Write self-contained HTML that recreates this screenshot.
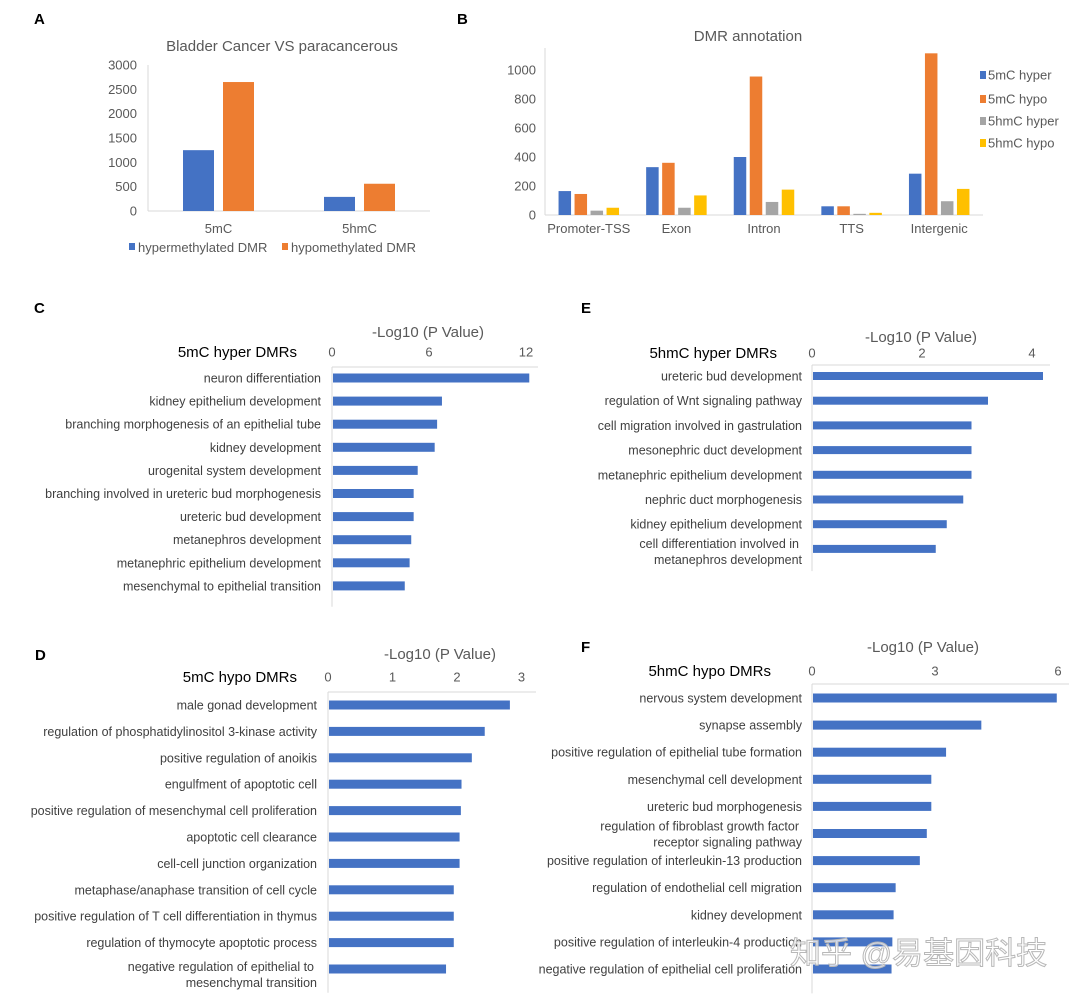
<!DOCTYPE html>
<html><head><meta charset="utf-8"><style>
html,body{margin:0;padding:0;background:#fff;}
svg{display:block;font-family:"Liberation Sans","Noto Sans CJK SC",sans-serif;}
</style></head><body>
<svg id="fig" width="1080" height="997" viewBox="0 0 1080 997" xmlns="http://www.w3.org/2000/svg"></svg>
<script>
// ---- Panel A data ----
const aCats = ['5mC','5hmC'];
const aHyper = [1250, 290];
const aHypo = [2650, 560];
const aTicks = [0,500,1000,1500,2000,2500,3000];
// ---- Panel B data ----
const bCats = ['Promoter-TSS','Exon','Intron','TTS','Intergenic'];
const bSeriesNames = ['5mC hyper','5mC hypo','5hmC hyper','5hmC hypo'];
const b5mcHyper = [165, 330, 400, 60, 285];
const b5mcHypo = [145, 360, 955, 60, 1115];
const b5hmcHyper = [30, 50, 90, 8, 95];
const b5hmcHypo = [50, 135, 175, 15, 180];
const bTicks = [0,200,400,600,800,1000];
// ---- Panel C data ----
const cLabels = ['neuron differentiation','kidney epithelium development','branching morphogenesis of an epithelial tube','kidney development','urogenital system development','branching involved in ureteric bud morphogenesis','ureteric bud development','metanephros development','metanephric epithelium development','mesenchymal to epithelial transition'];
const cValues = [12.2, 6.8, 6.5, 6.35, 5.3, 5.05, 5.05, 4.9, 4.8, 4.5];
const cTicks = [0, 6, 12];
// ---- Panel E data ----
const eLabels = ['ureteric bud development','regulation of Wnt signaling pathway','cell migration involved in gastrulation','mesonephric duct development','metanephric epithelium development','nephric duct morphogenesis','kidney epithelium development','cell differentiation involved in\nmetanephros development'];
const eValues = [4.2, 3.2, 2.9, 2.9, 2.9, 2.75, 2.45, 2.25];
const eTicks = [0, 2, 4];
// ---- Panel D data ----
const dLabels = ['male gonad development','regulation of phosphatidylinositol 3-kinase activity','positive regulation of anoikis','engulfment of apoptotic cell','positive regulation of mesenchymal cell proliferation','apoptotic cell clearance','cell-cell junction organization','metaphase/anaphase transition of cell cycle','positive regulation of T cell differentiation in thymus','regulation of thymocyte apoptotic process','negative regulation of epithelial to\nmesenchymal transition'];
const dValues = [2.82, 2.43, 2.23, 2.07, 2.06, 2.04, 2.04, 1.95, 1.95, 1.95, 1.83];
const dTicks = [0, 1, 2, 3];
// ---- Panel F data ----
const fLabels = ['nervous system development','synapse assembly','positive regulation of epithelial tube formation','mesenchymal cell development','ureteric bud morphogenesis','regulation of fibroblast growth factor\nreceptor signaling pathway','positive regulation of interleukin-13 production','regulation of endothelial cell migration','kidney development','positive regulation of interleukin-4 production','negative regulation of epithelial cell proliferation'];
const fValues = [5.97, 4.13, 3.27, 2.91, 2.91, 2.8, 2.63, 2.04, 1.99, 1.96, 1.94];
const fTicks = [0, 3, 6];

const NS = 'http://www.w3.org/2000/svg';
const svg = document.getElementById('fig');
function mk(tag, attrs, parent){
  const el = document.createElementNS(NS, tag);
  for (const k in attrs) el.setAttribute(k, attrs[k]);
  (parent || svg).appendChild(el);
  return el;
}
function txt(s, attrs, parent){ const t = mk('text', attrs, parent); t.textContent = s; return t; }
const BLUE='#4472C4', ORANGE='#ED7D31', GRAY='#A5A5A5', YELLOW='#FFC000';
const TICKC='#595959', LABC='#404040', AXC='#d9d9d9';

// ================= Panel A =================
(function(){
  const g = mk('g', {});
  
  
  let t = txt('A', {x:34, y:24, 'font-size':15, 'font-weight':'bold', fill:'#000'}, g);
  
  
  t = txt('Bladder Cancer VS paracancerous', {x:282, y:51, 'font-size':15, fill:TICKC, 'text-anchor':'middle'}, g);
  
  
  const x0=148, x1=430, yZero=211, yTop=65, vmax=3000;
  const y = v => yZero - v*(yZero-yTop)/vmax;
  const band = (x1-x0)/aCats.length;
  const cx = i => x0 + band*(i+0.5);
  let l = mk('line', {x1:x0, y1:65, x2:x0, y2:yZero, stroke:AXC}, g);
  
  
  l = mk('line', {x1:x0, y1:yZero, x2:x1, y2:yZero, stroke:AXC}, g);
  
  
  aTicks.forEach(v=>{
    const tt = txt(String(v), {x:137, y:y(v)+4.5, 'font-size':13, fill:TICKC, 'text-anchor':'end'}, g);
    
    
  });
  aCats.forEach((c,i)=>{
    const w=31;
    let r = mk('rect', {x:cx(i)-20-w/2, y:y(aHyper[i]), width:w, height:yZero-y(aHyper[i]), fill:BLUE}, g);
    
    
    r = mk('rect', {x:cx(i)+20-w/2, y:y(aHypo[i]), width:w, height:yZero-y(aHypo[i]), fill:ORANGE}, g);
    
    
    const tt = txt(c, {x:cx(i), y:233, 'font-size':13, fill:TICKC, 'text-anchor':'middle'}, g);
    
    
  });
  let r = mk('rect', {x:129, y:243, width:6, height:7, fill:BLUE}, g);
  
  
  t = txt('hypermethylated DMR', {x:138, y:252, 'font-size':13, fill:TICKC}, g);
  
  
  r = mk('rect', {x:282, y:243, width:6, height:7, fill:ORANGE}, g);
  
  
  t = txt('hypomethylated DMR', {x:291, y:252, 'font-size':13, fill:TICKC}, g);
  
  
})();

// ================= Panel B =================
(function(){
  const g = mk('g', {});
  
  
  let t = txt('B', {x:457, y:24, 'font-size':15, 'font-weight':'bold', fill:'#000'}, g);
  
  
  t = txt('DMR annotation', {x:748, y:41, 'font-size':15, fill:TICKC, 'text-anchor':'middle'}, g);
  
  
  const x0=545, x1=983, yZero=215, vPerPx=0.145;
  const y = v => yZero - v*vPerPx;
  const band = (x1-x0)/bCats.length;
  const cx = i => x0 + band*(i+0.5);
  let l = mk('line', {x1:x0, y1:48, x2:x0, y2:yZero, stroke:AXC}, g);
  
  
  l = mk('line', {x1:x0, y1:yZero, x2:x1, y2:yZero, stroke:AXC}, g);
  
  
  bTicks.forEach(v=>{
    const tt = txt(String(v), {x:536, y:y(v)+4.5, 'font-size':13, fill:TICKC, 'text-anchor':'end'}, g);
    
    
  });
  const series = [b5mcHyper, b5mcHypo, b5hmcHyper, b5hmcHypo];
  const cols = [BLUE, ORANGE, GRAY, YELLOW];
  bCats.forEach((c,i)=>{
    series.forEach((s,k)=>{
      const w=12.5, xc = cx(i) + (k-1.5)*16;
      const r = mk('rect', {x:xc-w/2, y:y(s[i]), width:w, height:yZero-y(s[i]), fill:cols[k]}, g);
      
      
    });
    const tt = txt(c, {x:cx(i), y:233, 'font-size':13, fill:TICKC, 'text-anchor':'middle'}, g);
    
    
  });
  const ly = [75, 99, 121, 143];
  bSeriesNames.forEach((n,k)=>{
    const r = mk('rect', {x:980, y:ly[k]-4, width:6, height:8, fill:cols[k]}, g);
    
    
    const tt = txt(n, {x:988, y:ly[k]+4.5, 'font-size':13, fill:TICKC}, g);
    
    
  });
})();

// ================= Horizontal bar panels =================
function hbar(cfg, labels, values, ticks){
  const g = mk('g', {});
  
  
  let t = txt(cfg.letter, {x:cfg.lx, y:cfg.ly, 'font-size':15, 'font-weight':'bold', fill:'#000'}, g);
  
  
  t = txt('-Log10 (P Value)', {x:cfg.titleX, y:cfg.titleY+5, 'font-size':15, fill:TICKC, 'text-anchor':'middle'}, g);
  
  
  t = txt(cfg.sub, {x:cfg.subX, y:cfg.tickY+5, 'font-size':15, fill:'#000', 'text-anchor':'end'}, g);
  
  
  const x = v => cfg.x0 + v*cfg.ppu;
  const yc = i => cfg.y0 + i*cfg.step;
  let l = mk('line', {x1:cfg.x0, y1:cfg.axTop, x2:cfg.axRight, y2:cfg.axTop, stroke:AXC}, g);
  
  
  l = mk('line', {x1:cfg.x0, y1:cfg.axTop, x2:cfg.x0, y2:yc(labels.length-1)+cfg.step*0.9, stroke:AXC}, g);
  
  
  ticks.forEach(v=>{
    const tt = txt(String(v), {x:x(v), y:cfg.tickY+4.5, 'font-size':13, fill:TICKC, 'text-anchor':'middle'}, g);
    
    
  });
  labels.forEach((lab,i)=>{
    const r = mk('rect', {x:cfg.x0+1, y:yc(i)-cfg.bh/2, width:x(values[i])-cfg.x0-1, height:cfg.bh, fill:BLUE}, g);
    
    
    const lines = lab.split('\n');
    if (lines.length === 1) {
      const tt = txt(lab, {x:cfg.labX, y:yc(i)+4.5, 'font-size':12.5, fill:LABC, 'text-anchor':'end'}, g);
      
      
    } else {
      const tt = txt('', {x:cfg.labX, y:yc(i)+cfg.ml, 'font-size':12.5, fill:LABC, 'text-anchor':'end'}, g);
      
      
      lines.forEach((ln,j)=>{
        const sp = mk('tspan', {x:cfg.labX-(j===0?3:0), dy:j===0?0:16}, tt);
        sp.textContent = ln;
      });
    }
  });
}
hbar({id:'c', letter:'C', lx:34, ly:313, titleX:428, titleY:332, sub:'5mC hyper DMRs', subX:297, tickY:352,
  x0:332, ppu:16.17, y0:378, step:23.1, bh:9, axTop:367, axRight:538, labX:321, ml:-1}, cLabels, cValues, cTicks);
hbar({id:'e', letter:'E', lx:581, ly:313, titleX:921, titleY:337, sub:'5hmC hyper DMRs', subX:777, tickY:353,
  x0:812, ppu:55, y0:376, step:24.7, bh:8, axTop:365, axRight:1050, labX:802, ml:-1}, eLabels, eValues, eTicks);
hbar({id:'d', letter:'D', lx:35, ly:660, titleX:440, titleY:654, sub:'5mC hypo DMRs', subX:297, tickY:677,
  x0:328, ppu:64.5, y0:705, step:26.4, bh:9, axTop:692, axRight:536, labX:317, ml:2}, dLabels, dValues, dTicks);
hbar({id:'f', letter:'F', lx:581, ly:652, titleX:923, titleY:647, sub:'5hmC hypo DMRs', subX:771, tickY:671,
  x0:812, ppu:41, y0:698, step:27.1, bh:9, axTop:684, axRight:1069, labX:802, ml:-3}, fLabels, fValues, fTicks);

// watermark
const wm = txt('知乎 @易基因科技', {x:790, y:964, 'font-size':31, fill:'#ffffff', stroke:'#b8b8b8', 'stroke-width':1, 'fill-opacity':0.75});


</script>
</body></html>
